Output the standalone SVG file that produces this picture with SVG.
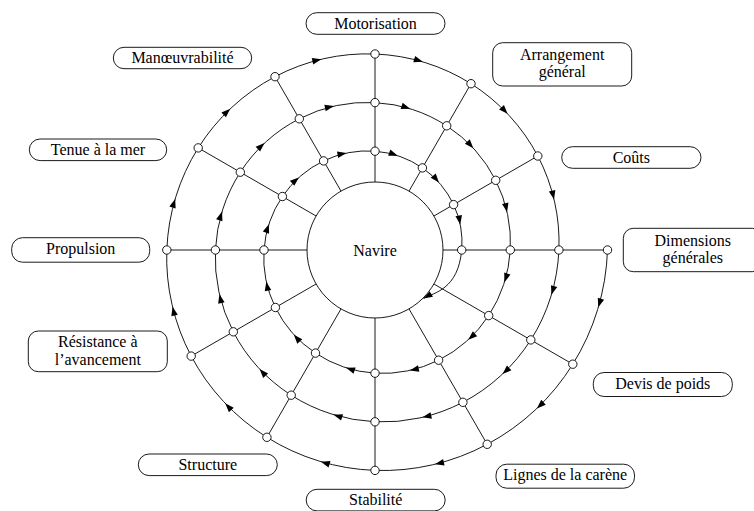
<svg xmlns="http://www.w3.org/2000/svg" xmlns:xlink="http://www.w3.org/1999/xlink" width="754" height="511" viewBox="0 0 754 511">
<style>
.ln{fill:none;stroke:#000;stroke-width:0.9}
.bx{fill:#fff;stroke:#000;stroke-width:0.9}
.jn{fill:#fff;stroke:#000;stroke-width:0.9}
.ar{fill:#000;stroke:none}
text{font-family:"Liberation Serif","Times New Roman",serif;font-size:16px;fill:#000;text-anchor:middle}
</style>
<defs>
<path id="am" d="M-2.5,0 L-11.5,-3.3 L-11.5,3.3 Z"/>
<path id="ah" d="M0,0 L-9,-3.3 L-9,3.3 Z"/>
</defs>
<g id="connectors">
<g id="radials" class="ln">
<line x1="443" y1="250" x2="607.5" y2="250"/>
<line x1="433.9" y1="284" x2="572.8" y2="364.2"/>
<line x1="409" y1="308.9" x2="487.2" y2="444.3"/>
<line x1="375" y1="318" x2="375" y2="470.4"/>
<line x1="341" y1="308.9" x2="266.9" y2="437.3"/>
<line x1="316.1" y1="284" x2="191.2" y2="356.1"/>
<line x1="307" y1="250" x2="166.8" y2="250"/>
<line x1="316.1" y1="216" x2="198.2" y2="147.9"/>
<line x1="341" y1="191.1" x2="275" y2="76.7"/>
<line x1="375" y1="182" x2="375" y2="54"/>
<line x1="409" y1="191.1" x2="471" y2="83.7"/>
<line x1="433.9" y1="216" x2="537.8" y2="156"/>
</g>
<path id="spiral" class="ln" d="M607.5,250 A231.5,231.5 0 0 1 597.6,309.7 A229.5,229.5 0 0 1 572.8,364.2 A227.4,227.4 0 0 1 535.1,410.1 A225.4,225.4 0 0 1 487.2,444.3 A223.4,223.4 0 0 1 432.6,464.8 A221.4,221.4 0 0 1 375,470.4 A219.3,219.3 0 0 1 318.5,460.9 A217.3,217.3 0 0 1 266.9,437.3 A215.3,215.3 0 0 1 223.5,401.5 A213.3,213.3 0 0 1 191.2,356.1 A211.2,211.2 0 0 1 172,304.4 A209.2,209.2 0 0 1 166.8,250 A207.2,207.2 0 0 1 175.9,196.6 A205.2,205.2 0 0 1 198.2,147.9 A203.1,203.1 0 0 1 232.1,107.1 A201.1,201.1 0 0 1 275,76.7 A199.1,199.1 0 0 1 323.7,58.7 A197.1,197.1 0 0 1 375,54 A195,195 0 0 1 425.2,62.6 A193,193 0 0 1 471,83.7 A191,191 0 0 1 509.3,115.7 A189,189 0 0 1 537.8,156 A186.9,186.9 0 0 1 554.6,201.9 A184.9,184.9 0 0 1 558.9,250 A182.9,182.9 0 0 1 550.7,297.1 A180.9,180.9 0 0 1 530.8,339.9 A178.8,178.8 0 0 1 500.7,375.7 A176.8,176.8 0 0 1 462.9,402.3 A174.8,174.8 0 0 1 420,417.9 A172.8,172.8 0 0 1 375,421.8 A170.7,170.7 0 0 1 331.1,413.9 A168.7,168.7 0 0 1 291.2,395.2 A166.7,166.7 0 0 1 257.9,367.2 A164.7,164.7 0 0 1 233.3,331.8 A162.6,162.6 0 0 1 218.9,291.8 A160.6,160.6 0 0 1 215.4,250 A158.6,158.6 0 0 1 222.8,209.2 A156.6,156.6 0 0 1 240.3,172.2 A154.5,154.5 0 0 1 266.4,141.4 A152.5,152.5 0 0 1 299.3,118.8 A150.5,150.5 0 0 1 336.3,105.6 A148.5,148.5 0 0 1 375,102.6 A146.4,146.4 0 0 1 412.6,109.5 A144.4,144.4 0 0 1 446.7,125.8 A142.4,142.4 0 0 1 475,150 A140.4,140.4 0 0 1 495.7,180.3 A138.3,138.3 0 0 1 507.6,214.5 A136.3,136.3 0 0 1 510.3,250 A134.3,134.3 0 0 1 503.7,284.5 A132.3,132.3 0 0 1 488.7,315.6 A130.2,130.2 0 0 1 466.4,341.4 A128.2,128.2 0 0 1 438.6,360.2 A126.2,126.2 0 0 1 407.4,370.9 A124.2,124.2 0 0 1 375,373.2 A122.1,122.1 0 0 1 343.7,367 A120.1,120.1 0 0 1 315.5,353.1 A118.1,118.1 0 0 1 292.2,332.8 A116.1,116.1 0 0 1 275.4,307.5 A114,114 0 0 1 265.8,279.3 A112,112 0 0 1 264,250 A110,110 0 0 1 269.7,221.8 A108,108 0 0 1 282.4,196.5 A105.9,105.9 0 0 1 300.8,175.8 A103.9,103.9 0 0 1 323.6,160.9 A101.9,101.9 0 0 1 348.9,152.6 A99.9,99.9 0 0 1 375,151.2 A97.8,97.8 0 0 1 400.1,156.5 A95.8,95.8 0 0 1 422.4,167.9 A93.8,93.8 0 0 1 440.6,184.4 A91.8,91.8 0 0 1 453.6,204.6 A89.7,89.7 0 0 1 460.7,227 A87.7,87.7 0 0 1 461.7,250 C458.1,289.8 433.9,292.5 423.5,298.5"/>
<g id="arrows" class="ar">
<use xlink:href="#am" transform="translate(597.6 309.7) rotate(106.9)"/>
<use xlink:href="#am" transform="translate(535.1 410.1) rotate(137)"/>
<use xlink:href="#am" transform="translate(432.6 464.8) rotate(167)"/>
<use xlink:href="#am" transform="translate(318.5 460.9) rotate(197)"/>
<use xlink:href="#am" transform="translate(223.5 401.5) rotate(227.1)"/>
<use xlink:href="#am" transform="translate(172 304.4) rotate(257.1)"/>
<use xlink:href="#am" transform="translate(175.9 196.6) rotate(287.2)"/>
<use xlink:href="#am" transform="translate(232.1 107.1) rotate(317.2)"/>
<use xlink:href="#am" transform="translate(323.7 58.7) rotate(347.2)"/>
<use xlink:href="#am" transform="translate(425.2 62.6) rotate(17.3)"/>
<use xlink:href="#am" transform="translate(509.3 115.7) rotate(47.3)"/>
<use xlink:href="#am" transform="translate(554.6 201.9) rotate(77.4)"/>
<use xlink:href="#am" transform="translate(550.7 297.1) rotate(107.4)"/>
<use xlink:href="#am" transform="translate(500.7 375.7) rotate(137.5)"/>
<use xlink:href="#am" transform="translate(420 417.9) rotate(167.5)"/>
<use xlink:href="#am" transform="translate(331.1 413.9) rotate(197.6)"/>
<use xlink:href="#am" transform="translate(257.9 367.2) rotate(227.7)"/>
<use xlink:href="#am" transform="translate(218.9 291.8) rotate(257.7)"/>
<use xlink:href="#am" transform="translate(222.8 209.2) rotate(287.8)"/>
<use xlink:href="#am" transform="translate(266.4 141.4) rotate(317.9)"/>
<use xlink:href="#am" transform="translate(336.3 105.6) rotate(348)"/>
<use xlink:href="#am" transform="translate(412.6 109.5) rotate(18)"/>
<use xlink:href="#am" transform="translate(475 150) rotate(48.1)"/>
<use xlink:href="#am" transform="translate(507.6 214.5) rotate(78.2)"/>
<use xlink:href="#am" transform="translate(503.7 284.5) rotate(108.3)"/>
<use xlink:href="#am" transform="translate(466.4 341.4) rotate(138.4)"/>
<use xlink:href="#am" transform="translate(407.4 370.9) rotate(168.5)"/>
<use xlink:href="#am" transform="translate(343.7 367) rotate(198.7)"/>
<use xlink:href="#am" transform="translate(292.2 332.8) rotate(228.8)"/>
<use xlink:href="#am" transform="translate(265.8 279.3) rotate(258.9)"/>
<use xlink:href="#am" transform="translate(269.7 221.8) rotate(289.1)"/>
<use xlink:href="#am" transform="translate(300.8 175.8) rotate(319.2)"/>
<use xlink:href="#am" transform="translate(348.9 152.6) rotate(349.4)"/>
<use xlink:href="#am" transform="translate(400.1 156.5) rotate(19.6)"/>
<use xlink:href="#am" transform="translate(440.6 184.4) rotate(49.8)"/>
<use xlink:href="#am" transform="translate(460.7 227) rotate(80)"/>
<use xlink:href="#ah" transform="translate(423.5 298.5) rotate(150)"/>
</g>
</g>
<g id="navire">
<circle class="bx" cx="375" cy="250" r="68" fill="none"/>
<text x="375" y="255.5">Navire</text>
</g>
<g id="junctions" class="jn">
<circle cx="607.5" cy="250" r="4.2"/>
<circle cx="572.8" cy="364.2" r="4.2"/>
<circle cx="487.2" cy="444.3" r="4.2"/>
<circle cx="375" cy="470.4" r="4.2"/>
<circle cx="266.9" cy="437.3" r="4.2"/>
<circle cx="191.2" cy="356.1" r="4.2"/>
<circle cx="166.8" cy="250" r="4.2"/>
<circle cx="198.2" cy="147.9" r="4.2"/>
<circle cx="275" cy="76.7" r="4.2"/>
<circle cx="375" cy="54" r="4.2"/>
<circle cx="471" cy="83.7" r="4.2"/>
<circle cx="537.8" cy="156" r="4.2"/>
<circle cx="558.9" cy="250" r="4.2"/>
<circle cx="530.8" cy="339.9" r="4.2"/>
<circle cx="462.9" cy="402.3" r="4.2"/>
<circle cx="375" cy="421.8" r="4.2"/>
<circle cx="291.2" cy="395.2" r="4.2"/>
<circle cx="233.3" cy="331.8" r="4.2"/>
<circle cx="215.4" cy="250" r="4.2"/>
<circle cx="240.3" cy="172.2" r="4.2"/>
<circle cx="299.3" cy="118.8" r="4.2"/>
<circle cx="375" cy="102.6" r="4.2"/>
<circle cx="446.7" cy="125.8" r="4.2"/>
<circle cx="495.7" cy="180.3" r="4.2"/>
<circle cx="510.3" cy="250" r="4.2"/>
<circle cx="488.7" cy="315.6" r="4.2"/>
<circle cx="438.6" cy="360.2" r="4.2"/>
<circle cx="375" cy="373.2" r="4.2"/>
<circle cx="315.5" cy="353.1" r="4.2"/>
<circle cx="275.4" cy="307.5" r="4.2"/>
<circle cx="264" cy="250" r="4.2"/>
<circle cx="282.4" cy="196.5" r="4.2"/>
<circle cx="323.6" cy="160.9" r="4.2"/>
<circle cx="375" cy="151.2" r="4.2"/>
<circle cx="422.4" cy="167.9" r="4.2"/>
<circle cx="453.6" cy="204.6" r="4.2"/>
<circle cx="461.7" cy="250" r="4.2"/>
</g>
<g id="motorisation"><rect class="bx" x="306" y="12.7" width="139" height="21.6" rx="10.8"/><text x="375.5" y="29">Motorisation</text></g>
<g id="arrangement"><rect class="bx" x="492.7" y="42.7" width="139" height="43.3" rx="10"/><text x="562.2" y="59.5">Arrangement</text><text x="562.2" y="77">général</text></g>
<g id="couts"><rect class="bx" x="561.7" y="146.7" width="139.3" height="21.6" rx="10.8"/><text x="631.3" y="162.8">Coûts</text></g>
<g id="dimensions"><rect class="bx" x="623.3" y="228.3" width="139" height="43.4" rx="10"/><text x="692.8" y="245.5">Dimensions</text><text x="692.8" y="263">générales</text></g>
<g id="devis"><rect class="bx" x="593.3" y="372.5" width="139" height="24" rx="10.8"/><text x="662.8" y="388.5">Devis de poids</text></g>
<g id="lignes"><rect class="bx" x="496" y="464.2" width="138.5" height="24" rx="10.8"/><text x="565.2" y="480.3">Lignes de la carène</text></g>
<g id="stabilite"><rect class="bx" x="306.2" y="489.3" width="139" height="21.6" rx="10.8"/><text x="375.7" y="505">Stabilité</text></g>
<g id="structure"><rect class="bx" x="138.3" y="454" width="139" height="21.6" rx="10.8"/><text x="207.8" y="470">Structure</text></g>
<g id="resistance"><rect class="bx" x="28.3" y="331" width="139" height="40.7" rx="10"/><text x="97.8" y="347">Résistance à</text><text x="97.8" y="364.5">l’avancement</text></g>
<g id="propulsion"><rect class="bx" x="11.7" y="237.7" width="138" height="24.5" rx="10.8"/><text x="80.7" y="253.7">Propulsion</text></g>
<g id="tenue"><rect class="bx" x="29.3" y="139" width="137.4" height="21.6" rx="10.8"/><text x="98" y="155">Tenue à la mer</text></g>
<g id="manoeuvrabilite"><rect class="bx" x="113.3" y="47.3" width="138.4" height="21.4" rx="10.7"/><text x="182.5" y="63.3">Manœuvrabilité</text></g>
</svg>
